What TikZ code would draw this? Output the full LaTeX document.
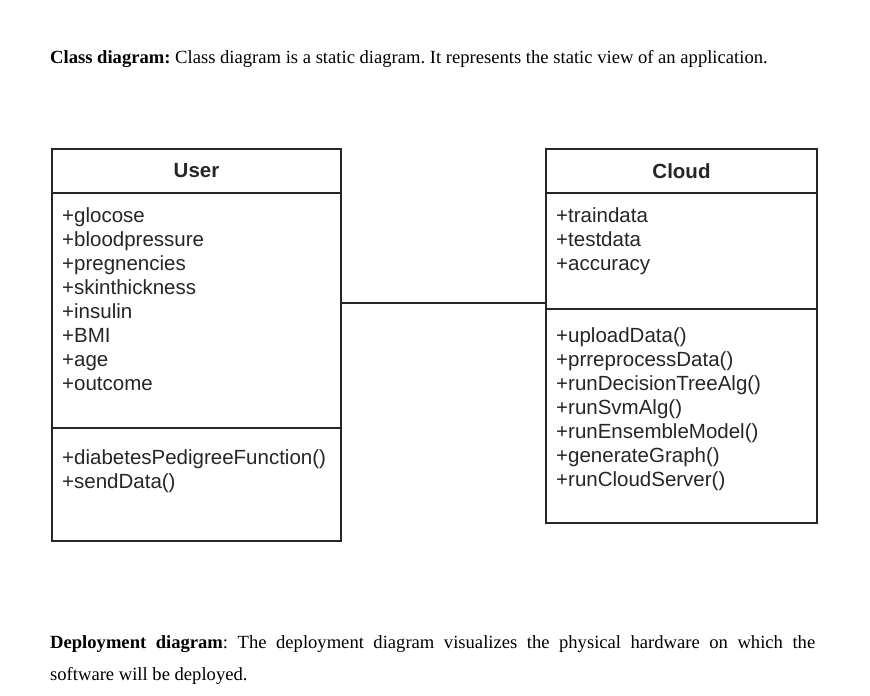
\documentclass[tikz,border=0pt]{standalone}
\usepackage{fontspec}
\setmainfont{Liberation Serif}
\setsansfont{Liberation Sans}
\usetikzlibrary{positioning}
\usetikzlibrary{calc}
\frenchspacing

\tikzset{
    compartment/.style 2 args={draw=black!85, line width=1.4pt, minimum width=#1, minimum height=#2, inner sep=0pt, outer sep=0pt},
    classname/.style={font=\sffamily\bfseries\fontsize{20.5}{24}\selectfont, text=black!85},
    member/.style={anchor=base west, inner sep=0pt, font=\sffamily\fontsize{20.5}{24}\selectfont, text=black!85},
    para/.style={anchor=base west, inner sep=0pt, font=\fontsize{18.6}{24}\selectfont},
    assoc/.style={draw=black!85, line width=1.4pt}
}

\begin{document}
\begin{tikzpicture}[x=1pt, y=-1pt]
            \useasboundingbox[fill=white] (0,0) rectangle (870,696);

            % Heading text
            \node[para] (intro) at (50,63) {\textbf{Class diagram:} Class diagram is a static diagram. It represents the static view of an application.};

            % User class
            \node[compartment={289pt}{44pt}, anchor=north west, classname] (uhead) at (52,149) {User};
            \node[compartment={289pt}{235pt}, below=0pt of uhead] (uattr) {};
            \node[compartment={289pt}{113pt}, below=0pt of uattr] (umeth) {};
            \foreach \t [count=\i] in {glocose,bloodpressure,pregnencies,skinthickness,insulin,BMI,age,outcome}
                \node[member] (ua\i) at (62,198+24*\i) {+\t};
            \foreach \t [count=\i] in {diabetesPedigreeFunction(),sendData()}
                \node[member] (um\i) at (62,440+24*\i) {+\t};

            % Cloud class
            \node[compartment={271pt}{44pt}, anchor=north west, classname] (chead) at (546,149) {Cloud};
            \node[compartment={271pt}{116pt}, below=0pt of chead] (cattr) {};
            \node[compartment={271pt}{214pt}, below=0pt of cattr] (cmeth) {};
            \foreach \t [count=\i] in {traindata,testdata,accuracy}
                \node[member] (ca\i) at (556,198+24*\i) {+\t};
            \foreach \t [count=\i] in {uploadData(),prreprocessData(),runDecisionTreeAlg(),runSvmAlg(),runEnsembleModel(),generateGraph(),runCloudServer()}
                \node[member] (cm\i) at (556,318+24*\i) {+\t};

            % Association
            \draw[assoc] ([yshift=7.5pt]uattr.east) -- ([yshift=7.5pt]uattr.east -| cattr.west);

            % Closing text
            \node[para] (deploy1) at (50,648) {\makebox[765pt][s]{\textbf{Deployment diagram}: The deployment diagram visualizes the physical hardware on which the}};
            \node[para] (deploy2) at (50,680) {software will be deployed.};
\end{tikzpicture}
\end{document}
